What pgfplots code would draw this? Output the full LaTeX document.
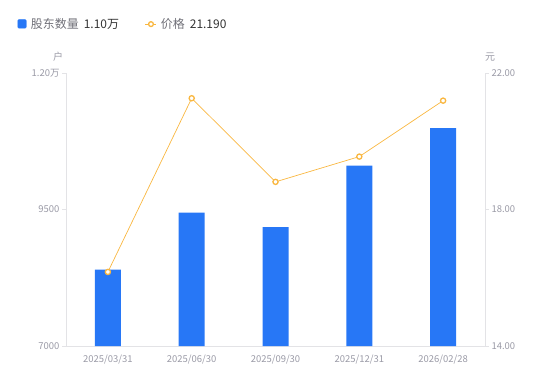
\documentclass[border=0pt]{standalone}
\usepackage{fontspec}
\setmainfont{Noto Sans CJK SC}
\usepackage{pgfplots}
\pgfplotsset{compat=1.18}
\definecolor{barblue}{HTML}{2777F6}
\definecolor{lineorange}{HTML}{F9B740}
\definecolor{tickgray}{HTML}{9A9AA6}
\definecolor{axgray}{HTML}{E3E3E6}
\definecolor{leggray}{HTML}{707078}
\definecolor{legdark}{HTML}{333333}
\begin{document}
\begin{tikzpicture}[x=1bp,y=1bp]
\path[use as bounding box] (0,0) rectangle (550,381);
\begin{axis}[
  at={(66bp,35bp)}, anchor=south west,
  scale only axis, width=419bp, height=273bp,
  xmin=-0.5, xmax=4.5, ymin=7000, ymax=12000,
  scaled y ticks=false,
  axis x line*=bottom, axis y line*=left,
  axis line style={-, draw=axgray, line width=0.8bp},
  xtick={0,1,2,3,4},
  xticklabels={2025/03/31,2025/06/30,2025/09/30,2025/12/31,2026/02/28},
  ytick={7000,9500,12000},
  yticklabels={7000,9500,1.20万},
  xtick style={draw=none},
  ytick style={draw=axgray, line width=0.8bp},
  tick align=outside, major tick length=4bp,
  ticklabel style={font=\fontsize{9.5}{11}\selectfont, text=tickgray},
  xticklabel style={yshift=-1bp},
  yticklabel style={xshift=1bp},
  /pgf/number format/assume math mode=true,
  clip=false,
]
\addplot[ybar, bar width=26bp, fill=barblue, draw=none] coordinates {
  (0,8400) (1,9445) (2,9177) (3,10302) (4,10990)
};
\node[font=\fontsize{10}{12}\selectfont, text=tickgray] at (axis description cs:-0.019,1.06) {户};
\end{axis}
\begin{axis}[
  at={(66bp,35bp)}, anchor=south west,
  scale only axis, width=419bp, height=273bp,
  xmin=-0.5, xmax=4.5, ymin=14, ymax=22,
  axis x line=none, axis y line*=right,
  axis line style={-, draw=axgray, line width=0.8bp},
  ytick={14,18,22},
  yticklabels={14.00,18.00,22.00},
  ytick style={draw=axgray, line width=0.8bp},
  tick align=outside, major tick length=4bp,
  ticklabel style={font=\fontsize{9.5}{11}\selectfont, text=tickgray},
  yticklabel style={xshift=-1bp},
  /pgf/number format/assume math mode=true,
  clip=false,
  legend columns=2,
  legend style={at={(rel axis cs:-0.116,1.179)}, anchor=west, draw=none, fill=none,
    inner sep=0pt, font=\fontsize{12}{14}\selectfont,
    /tikz/every even column/.append style={column sep=24bp}},
  legend cell align=left,
]
\addlegendimage{legend image code/.code={\fill[barblue, rounded corners=1bp] (0bp,-4bp) rectangle (8.5bp,4.5bp);}}
\addlegendentry{\hspace{2.5bp}{\color{leggray}股东数量}\hspace{5bp}{\color{legdark}1.10万}}
\addplot[lineorange, line width=0.7bp, mark=*, mark size=2.6bp,
  mark options={fill=white, draw=lineorange, line width=1.3bp},
  legend image code/.code={\draw[lineorange, line width=1bp] (0bp,0bp) -- (11bp,0bp);
    \draw[lineorange, fill=white, line width=1.3bp] (5.5bp,0bp) circle (2.4bp);}]
  coordinates {(0,16.17) (1,21.26) (2,18.81) (3,19.55) (4,21.19)};
\addlegendentry{\hspace{2bp}{\color{leggray}价格}\hspace{5bp}{\color{legdark}21.190}}
\node[font=\fontsize{10}{12}\selectfont, text=tickgray] at (axis description cs:1.012,1.06) {元};
\end{axis}
\end{tikzpicture}
\end{document}
